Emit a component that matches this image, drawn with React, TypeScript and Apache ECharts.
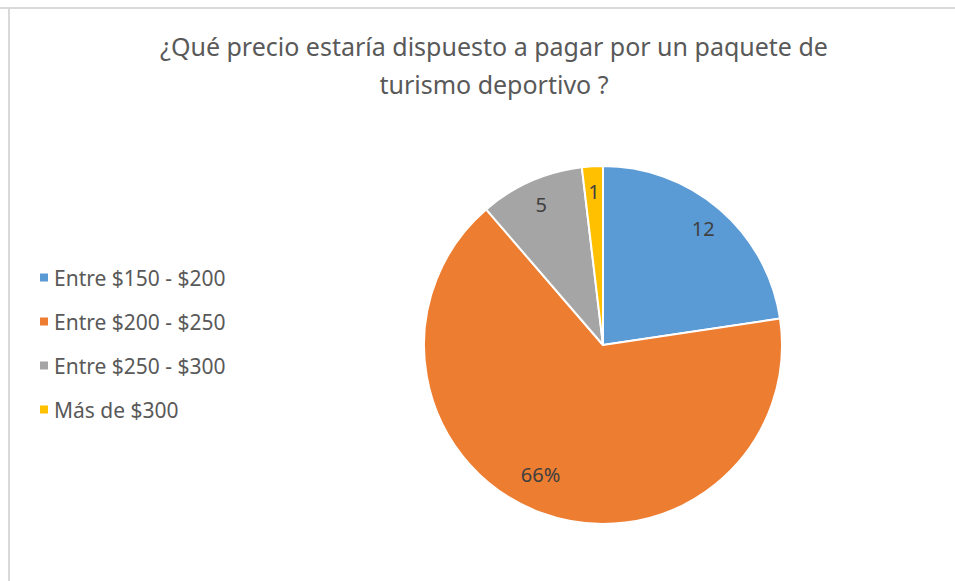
import React, { useEffect, useRef } from "react";
import * as echarts from "echarts";

const categories = ["Entre $150 - $200", "Entre $200 - $250", "Entre $250 - $300", "Más de $300"];
const values = [12, 35, 5, 1];
const showPercent = [false, true, false, false];
const colors = ["#5B9BD5", "#ED7D31", "#A5A5A5", "#FFC000"];
const titleText = "¿Qué precio estaría dispuesto a pagar por un paquete de\nturismo deportivo ?";

const FONT = "Noto Sans";

export default function App() {
  const ref = useRef<HTMLDivElement>(null);
  useEffect(() => {
    const chart = echarts.init(ref.current!, null, { renderer: "svg" });
    const data = categories.map((name, i) => ({ name, value: values[i], itemStyle: { color: colors[i] } }));
    const labelData = categories.map((name, i) => ({
      name,
      value: values[i],
      label: showPercent[i]
        ? { formatter: (p: any) => Math.round(p.percent) + "%", offset: [-9, -14] }
        : { formatter: "{c}" },
    }));
    chart.setOption({
      animation: false,
      backgroundColor: "#ffffff",
      title: {
        text: titleText,
        left: 489,
        top: 22,
        textAlign: "center",
        textStyle: { fontFamily: FONT, fontSize: 25, fontWeight: "normal", color: "#595959", lineHeight: 38 },
      },
      legend: {
        orient: "vertical",
        left: 33,
        top: 262,
        itemWidth: 10,
        itemHeight: 10,
        itemGap: 23,
        icon: "rect",
        data: categories,
        textStyle: { fontFamily: FONT, fontSize: 21, color: "#595959" },
      },
      graphic: [
        { type: "line", shape: { x1: 0, y1: 8, x2: 955, y2: 8 }, style: { stroke: "#d9d9d9", lineWidth: 2 } },
        { type: "line", shape: { x1: 9, y1: 7, x2: 9, y2: 581 }, style: { stroke: "#d9d9d9", lineWidth: 2 } },
      ],
      series: [
        {
          type: "pie",
          center: [603, 345],
          radius: [0, 179],
          startAngle: 90,
          clockwise: true,
          label: { show: false },
          labelLine: { show: false },
          itemStyle: { borderColor: "#ffffff", borderWidth: 2 },
          emphasis: { disabled: true },
          data,
        },
        {
          type: "pie",
          center: [603, 345],
          radius: [122, 179],
          startAngle: 90,
          clockwise: true,
          silent: true,
          label: {
            show: true,
            position: "inside",
            fontFamily: FONT,
            fontSize: 20,
            color: "#404040",
          },
          labelLine: { show: false },
          itemStyle: { color: "rgba(0,0,0,0)", borderWidth: 0 },
          emphasis: { disabled: true },
          data: labelData,
        },
      ],
    });
    return () => chart.dispose();
  }, []);
  return (
    <div style={{ position: "absolute", left: 0, top: 0, width: 955, height: 581 }}>
      <div ref={ref} style={{ width: 955, height: 581 }} />
    </div>
  );
}
